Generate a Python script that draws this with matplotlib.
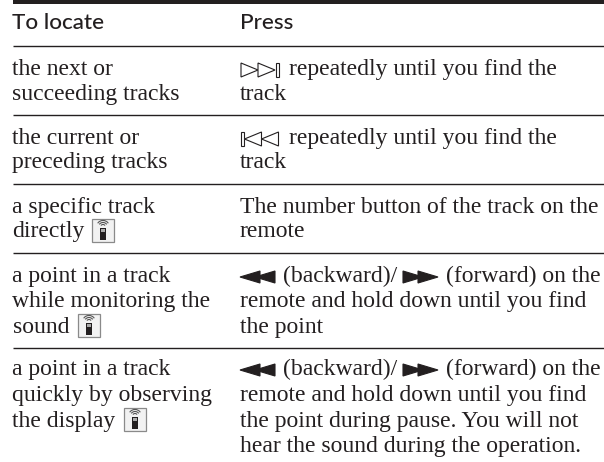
import matplotlib
matplotlib.use("Agg")
import matplotlib.pyplot as plt
from matplotlib.patches import Polygon, Rectangle, Arc

# Table text, one list per column
headers = ["To locate", "Press"]
left_lines = [
    ["the next or", "succeeding tracks"],
    ["the current or", "preceding tracks"],
    ["a specific track", "directly"],
    ["a point in a track", "while monitoring the", "sound"],
    ["a point in a track", "quickly by observing", "the display"],
]
right_lines = [
    ["repeatedly until you find the", "track"],
    ["repeatedly until you find the", "track"],
    ["The number button of the track on the", "remote"],
    ["(backward)/", "remote and hold down until you find", "the point"],
    ["(backward)/", "remote and hold down until you find",
     "the point during pause. You will not", "hear the sound during the operation."],
]
forward_text = "(forward) on the"

# Baselines in pixels from the top of the picture
row_baselines = [[75, 100], [144, 168], [213, 237], [282, 307, 333], [375, 401, 427, 452]]
rule_ys = [45.7, 115, 184, 253, 347.7]

W, H = 604, 462
INK = "#231f20"
LEFT_X, RIGHT_X = 12.5, 240
SERIF = "Liberation Serif"
SIZE = 17.0

fig = plt.figure(figsize=(W / 100, H / 100), dpi=100)
ax = fig.add_axes([0, 0, 1, 1])
ax.set_xlim(0, W)
ax.set_ylim(H, 0)
ax.axis("off")


def serif(x, y, s):
    ax.text(x, y, s, family=SERIF, fontsize=SIZE, color=INK, va="baseline", ha="left")


def tri(x0, x1, y, h, pointing_right=True, filled=False):
    tip, back = (x1, x0) if pointing_right else (x0, x1)
    ax.add_patch(Polygon([(back, y - h), (back, y + h), (tip, y)], closed=True,
                         facecolor=INK if filled else "white", edgecolor=INK, lw=0.8))


def remote_icon(x, y):
    # small boxed remote control symbol
    ax.add_patch(Rectangle((x, y), 22, 23, facecolor="#f2f2f2", edgecolor="#8a8a8a", lw=0.9))
    ax.add_patch(Rectangle((x + 8, y + 9), 6, 12, facecolor=INK, edgecolor="none"))
    ax.add_patch(Rectangle((x + 9, y + 10), 4, 3, facecolor="#aaaaaa", edgecolor="none"))
    for d in (5, 9, 13):
        ax.add_patch(Arc((x + 11, y + 8), d, d, theta1=215, theta2=325, color="#555555", lw=0.8))


def skip_fwd(x, y):
    tri(x, x + 17, y, 7)
    tri(x + 17, x + 34, y, 7)
    ax.add_patch(Rectangle((x + 35, y - 7), 2.5, 14, facecolor="white", edgecolor=INK, lw=0.8))


def skip_back(x, y):
    ax.add_patch(Rectangle((x, y - 7), 2.5, 14, facecolor="white", edgecolor=INK, lw=0.8))
    tri(x + 3.5, x + 20.5, y, 7, pointing_right=False)
    tri(x + 20.5, x + 37.5, y, 7, pointing_right=False)


def double_arrow(x, y, pointing_right):
    tri(x, x + 20, y, 6, pointing_right, filled=True)
    tri(x + 15, x + 35, y, 6, pointing_right, filled=True)


# top bar and rules
ax.add_patch(Rectangle((12.5, 0), W - 12.5, 4, facecolor=INK, edgecolor="none"))
for y in rule_ys:
    ax.plot([12.5, W], [y, y], color=INK, lw=1.0, solid_capstyle="butt")

# header row
for x, s in zip((LEFT_X, RIGHT_X), headers):
    ax.text(x, 29, s, family="Lato", fontsize=16.2, weight="medium", color=INK, va="baseline")

for lines, ys in zip(left_lines, row_baselines):
    for s, y in zip(lines, ys):
        serif(LEFT_X, y, s)

for i, (lines, ys) in enumerate(zip(right_lines, row_baselines)):
    for j, (s, y) in enumerate(zip(lines, ys)):
        x = RIGHT_X
        if j == 0 and i in (0, 1):
            x = 289
            (skip_fwd if i == 0 else skip_back)(RIGHT_X + 1, y - 5)
        if j == 0 and i in (3, 4):
            x = 283
            double_arrow(RIGHT_X, y - 5, False)
            double_arrow(403, y - 5, True)
            serif(446, y, forward_text)
        serif(x, y, s)

remote_icon(92, 219)
remote_icon(78, 314)
remote_icon(124, 408)

fig.savefig("out.png", dpi=100)
